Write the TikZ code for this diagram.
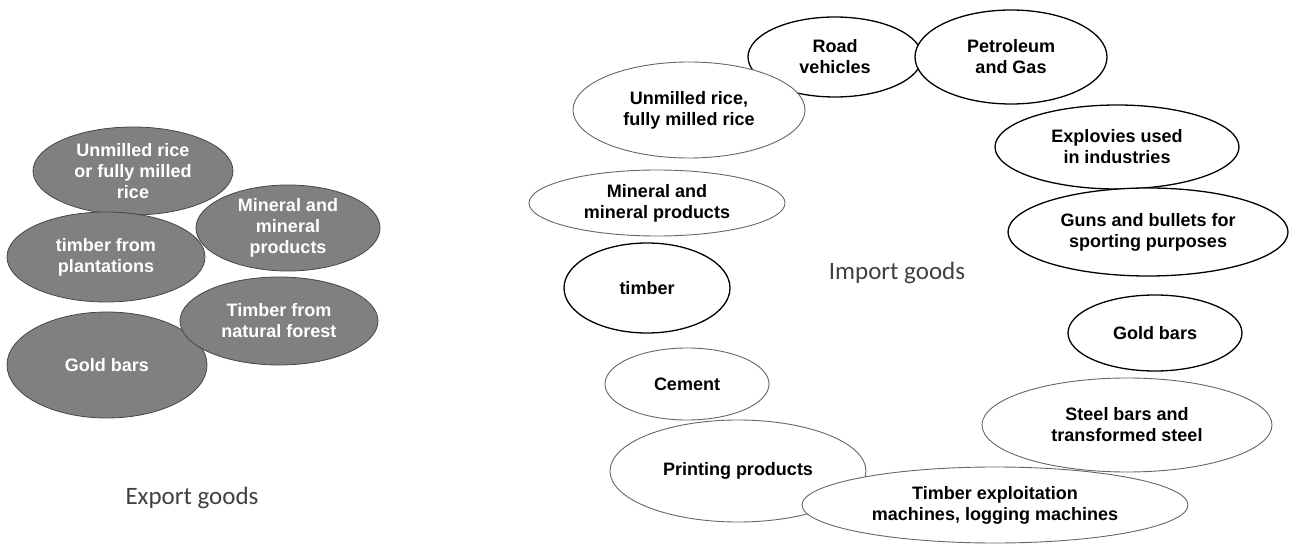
\documentclass[tikz,border=0pt]{standalone}
\usepackage{fontspec}
\setmainfont{Liberation Sans}
\newfontfamily\calib{Carlito}
\usetikzlibrary{shapes.geometric}
\definecolor{expfill}{RGB}{128,128,128}
\definecolor{expedge}{RGB}{70,70,70}
\definecolor{labgray}{RGB}{64,64,64}
\tikzset{
  base/.style={ellipse, inner sep=0pt, align=center, font=\bfseries\fontsize{18}{21}\selectfont},
  exp/.style={base, fill=expfill, draw=expedge, line width=0.8pt, text=white},
  impsolid/.style={base, fill=white, draw=black, line width=1.3pt},
  impthin/.style={base, fill=white, draw=black!60, line width=0.9pt},
  caption/.style={font=\calib\fontsize{25}{30}\selectfont, text=labgray}
}
\begin{document}
\begin{tikzpicture}[x=1pt, y=-1pt]
\useasboundingbox (0,0) rectangle (1293,545);
% Export goods
\node[exp, minimum width=200pt, minimum height=88pt] (e1) at (133,171) {Unmilled rice\\or fully milled\\rice};
\node[exp, minimum width=198pt, minimum height=90pt] (e2) at (106,257) {timber from\\plantations};
\node[exp, minimum width=184pt, minimum height=86pt] (e3) at (288,228) {Mineral and\\mineral\\products};
\node[exp, minimum width=200pt, minimum height=106pt] (e5) at (107,365) {Gold bars};
\node[exp, minimum width=198pt, minimum height=88pt] (e4) at (279,321) {Timber from\\natural forest};
\node[caption] (explab) at (192,498) {Export goods};
% Import goods
\node[impsolid, minimum width=174pt, minimum height=80pt] (r1) at (835,57) {Road\\vehicles};
\node[impsolid, minimum width=192pt, minimum height=94pt] (r2) at (1011,57) {Petroleum\\and Gas};
\node[impthin, minimum width=232pt, minimum height=96pt] (r3) at (689,110) {Unmilled rice,\\fully milled rice};
\node[impthin, minimum width=256pt, minimum height=66pt] (r4) at (657,203) {Mineral and\\mineral products};
\node[impsolid, minimum width=166pt, minimum height=90pt] (r5) at (647,288) {timber};
\node[impthin, minimum width=164pt, minimum height=72pt] (r6) at (687,384) {Cement};
\node[impthin, minimum width=256pt, minimum height=102pt] (r7) at (738,471) {Printing products};
\node[impthin, minimum width=386pt, minimum height=76pt] (r8) at (995,505) {Timber exploitation\\machines, logging machines};
\node[impthin, minimum width=290pt, minimum height=94pt] (r9) at (1127,425) {Steel bars and\\transformed steel};
\node[impsolid, minimum width=174pt, minimum height=76pt] (r10) at (1155,333) {Gold bars};
\node[impsolid, minimum width=244pt, minimum height=84pt] (r12) at (1117,147) {Explovies used\\in industries};
\node[impsolid, minimum width=280pt, minimum height=88pt] (r11) at (1148,232) {Guns and bullets for\\sporting purposes};
\node[caption] (implab) at (897,273) {Import goods};
\end{tikzpicture}
\end{document}
